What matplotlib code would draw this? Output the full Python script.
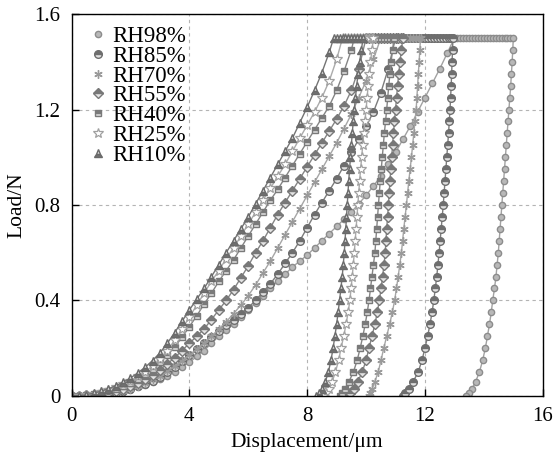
import matplotlib
matplotlib.use("Agg")
import matplotlib.pyplot as plt

plt.rcParams['font.family'] = ['Liberation Serif', 'DejaVu Serif']

PMAX = 1.5

# unloading curves are read at these load levels (N)
UNLOAD_P = [1.5, 1.45, 1.4, 1.35, 1.3, 1.25, 1.2, 1.15, 1.1, 1.05, 1.0, 0.95,
            0.9, 0.85, 0.8, 0.75, 0.7, 0.65, 0.6, 0.55, 0.5, 0.45, 0.4, 0.35,
            0.3, 0.25, 0.2, 0.15, 0.1, 0.06, 0.03, 0.01, 0.0]

LABELS = ["RH98%", "RH85%", "RH70%", "RH55%", "RH40%", "RH25%", "RH10%"]

# loading branch: displacement (um) and load (N)
load_x = {
    "RH98%": [0, 0.25, 0.5, 0.75, 1, 1.25, 1.5, 1.75, 2, 2.25, 2.5, 2.75, 3,
              3.25, 3.5, 3.75, 4, 4.25, 4.5, 4.75, 5, 5.25, 5.5, 5.75, 6, 6.25,
              6.5, 6.75, 7, 7.25, 7.5, 7.75, 8, 8.25, 8.5, 8.75, 9, 9.25, 9.5,
              9.75, 10, 10.25, 10.5, 10.75, 11, 11.25, 11.5, 11.75, 12, 12.25,
              12.5, 12.75, 13],
    "RH85%": [0, 0.25, 0.5, 0.75, 1, 1.25, 1.5, 1.75, 2, 2.25, 2.5, 2.75, 3,
              3.25, 3.5, 3.75, 4, 4.25, 4.5, 4.75, 5, 5.25, 5.5, 5.75, 6, 6.25,
              6.5, 6.75, 7, 7.25, 7.5, 7.75, 8, 8.25, 8.5, 8.75, 9, 9.25, 9.5,
              9.75, 10, 10.25, 10.5, 10.75, 11],
    "RH70%": [0, 0.25, 0.5, 0.75, 1, 1.25, 1.5, 1.75, 2, 2.25, 2.5, 2.75, 3,
              3.25, 3.5, 3.75, 4, 4.25, 4.5, 4.75, 5, 5.25, 5.5, 5.75, 6, 6.25,
              6.5, 6.75, 7, 7.25, 7.5, 7.75, 8, 8.25, 8.5, 8.75, 9, 9.25, 9.5,
              9.75, 10, 10.25, 10.5],
    "RH55%": [0, 0.25, 0.5, 0.75, 1, 1.25, 1.5, 1.75, 2, 2.25, 2.5, 2.75, 3,
              3.25, 3.5, 3.75, 4, 4.25, 4.5, 4.75, 5, 5.25, 5.5, 5.75, 6, 6.25,
              6.5, 6.75, 7, 7.25, 7.5, 7.75, 8, 8.25, 8.5, 8.75, 9, 9.25, 9.5,
              9.75, 10],
    "RH40%": [0, 0.25, 0.5, 0.75, 1, 1.25, 1.5, 1.75, 2, 2.25, 2.5, 2.75, 3,
              3.25, 3.5, 3.75, 4, 4.25, 4.5, 4.75, 5, 5.25, 5.5, 5.75, 6, 6.25,
              6.5, 6.75, 7, 7.25, 7.5, 7.75, 8, 8.25, 8.5, 8.75, 9, 9.25, 9.5,
              9.6],
    "RH25%": [0, 0.25, 0.5, 0.75, 1, 1.25, 1.5, 1.75, 2, 2.25, 2.5, 2.75, 3,
              3.25, 3.5, 3.75, 4, 4.25, 4.5, 4.75, 5, 5.25, 5.5, 5.75, 6, 6.25,
              6.5, 6.75, 7, 7.25, 7.5, 7.75, 8, 8.25, 8.5, 8.75, 9, 9.2],
    "RH10%": [0, 0.25, 0.5, 0.75, 1, 1.25, 1.5, 1.75, 2, 2.25, 2.5, 2.75, 3,
              3.25, 3.5, 3.75, 4, 4.25, 4.5, 4.75, 5, 5.25, 5.5, 5.75, 6, 6.25,
              6.5, 6.75, 7, 7.25, 7.5, 7.75, 8, 8.25, 8.5, 8.75, 8.9],
}
load_p = {
    "RH98%": [0, 0.0003, 0.001, 0.002, 0.004, 0.008, 0.012, 0.018, 0.025,
              0.035, 0.045, 0.057, 0.07, 0.085, 0.1, 0.12, 0.14, 0.165, 0.19,
              0.22, 0.25, 0.275, 0.3, 0.33, 0.36, 0.39, 0.42, 0.45, 0.48, 0.51,
              0.54, 0.565, 0.59, 0.62, 0.65, 0.68, 0.71, 0.74, 0.77, 0.805,
              0.84, 0.88, 0.92, 0.97, 1.02, 1.075, 1.13, 1.19, 1.25, 1.31,
              1.37, 1.435, 1.5],
    "RH85%": [0, 0.0003, 0.001, 0.003, 0.005, 0.009, 0.014, 0.021, 0.03,
              0.04, 0.05, 0.064, 0.08, 0.1, 0.12, 0.145, 0.17, 0.195, 0.22,
              0.245, 0.27, 0.295, 0.32, 0.345, 0.37, 0.4, 0.435, 0.47, 0.51,
              0.555, 0.6, 0.65, 0.705, 0.76, 0.81, 0.86, 0.91, 0.965, 1.02,
              1.075, 1.13, 1.19, 1.27, 1.37, 1.5],
    "RH70%": [0, 0.0003, 0.001, 0.003, 0.005, 0.009, 0.015, 0.022, 0.03,
              0.042, 0.055, 0.07, 0.085, 0.104, 0.125, 0.147, 0.17, 0.195,
              0.22, 0.25, 0.28, 0.31, 0.345, 0.38, 0.42, 0.465, 0.515, 0.565,
              0.62, 0.675, 0.73, 0.785, 0.84, 0.895, 0.95, 1.005, 1.06, 1.12,
              1.18, 1.25, 1.32, 1.41, 1.5],
    "RH55%": [0, 0.0005, 0.002, 0.005, 0.008, 0.013, 0.02, 0.029, 0.04,
              0.054, 0.07, 0.089, 0.11, 0.134, 0.16, 0.19, 0.22, 0.25, 0.28,
              0.32, 0.36, 0.4, 0.445, 0.495, 0.545, 0.6, 0.65, 0.705, 0.76,
              0.81, 0.86, 0.91, 0.96, 1.01, 1.06, 1.11, 1.16, 1.215, 1.28,
              1.37, 1.5],
    "RH40%": [0, 0.001, 0.003, 0.007, 0.012, 0.02, 0.03, 0.042, 0.055, 0.071,
              0.09, 0.112, 0.14, 0.17, 0.205, 0.245, 0.29, 0.335, 0.385, 0.43,
              0.48, 0.525, 0.57, 0.62, 0.67, 0.72, 0.77, 0.82, 0.865, 0.915,
              0.965, 1.015, 1.065, 1.115, 1.165, 1.215, 1.28, 1.36, 1.45, 1.5],
    "RH25%": [0, 0.001, 0.004, 0.009, 0.016, 0.025, 0.036, 0.049, 0.064,
              0.082, 0.102, 0.125, 0.155, 0.19, 0.233, 0.28, 0.33, 0.38, 0.43,
              0.48, 0.525, 0.575, 0.62, 0.67, 0.72, 0.77, 0.82, 0.87, 0.92,
              0.97, 1.025, 1.08, 1.135, 1.19, 1.25, 1.32, 1.41, 1.5],
    "RH10%": [0, 0.001, 0.005, 0.011, 0.02, 0.03, 0.042, 0.057, 0.075, 0.096,
              0.12, 0.148, 0.18, 0.22, 0.265, 0.312, 0.36, 0.405, 0.45, 0.5,
              0.55, 0.6, 0.65, 0.7, 0.75, 0.805, 0.86, 0.915, 0.97, 1.025,
              1.08, 1.145, 1.21, 1.28, 1.355, 1.44, 1.5],
}
# holding branch at PMAX: displacement (um) between loading and unloading
hold_x = {
    "RH98%": [13.1, 13.2, 13.3, 13.4, 13.5, 13.6, 13.7, 13.8, 13.9, 14.0,
              14.1, 14.2, 14.3, 14.4, 14.5, 14.6, 14.7, 14.8, 14.9],
    "RH85%": [11.1, 11.2, 11.3, 11.4, 11.5, 11.6, 11.7, 11.8, 11.9, 12.0,
              12.1, 12.2, 12.3, 12.4, 12.5, 12.6, 12.7, 12.8, 12.9],
    "RH70%": [10.6, 10.7, 10.8, 10.9, 11.0, 11.1, 11.2, 11.3, 11.4, 11.5,
              11.6, 11.7, 11.8],
    "RH55%": [10.1, 10.2, 10.3, 10.4, 10.5, 10.6, 10.7, 10.8, 10.9, 11.0,
              11.1, 11.2],
    "RH40%": [9.7, 9.8, 9.9, 10.0, 10.1, 10.2, 10.3, 10.4, 10.5, 10.6, 10.7,
              10.8, 10.9],
    "RH25%": [9.3, 9.4, 9.5, 9.6, 9.7, 9.8, 9.9, 10.0, 10.1, 10.2],
    "RH10%": [9.0, 9.1, 9.2, 9.3, 9.4, 9.5, 9.6, 9.7, 9.8],
}
# unloading branch: displacement (um) at UNLOAD_P
unload_x = {
    "RH98%": [15.0, 14.98, 14.96, 14.935, 14.91, 14.88, 14.85, 14.82, 14.79,
              14.76, 14.73, 14.7, 14.67, 14.64, 14.61, 14.58, 14.55, 14.52,
              14.49, 14.45, 14.41, 14.36, 14.3, 14.25, 14.19, 14.12, 14.05,
              13.96, 13.85, 13.72, 13.6, 13.48, 13.4],
    "RH85%": [12.95, 12.935, 12.92, 12.905, 12.89, 12.87, 12.85, 12.825,
              12.8, 12.77, 12.74, 12.71, 12.68, 12.65, 12.62, 12.585, 12.55,
              12.515, 12.48, 12.44, 12.4, 12.35, 12.3, 12.24, 12.17, 12.09,
              12.0, 11.9, 11.77, 11.6, 11.45, 11.33, 11.25],
    "RH70%": [11.85, 11.825, 11.8, 11.775, 11.75, 11.725, 11.7, 11.66, 11.62,
              11.58, 11.54, 11.495, 11.45, 11.41, 11.37, 11.325, 11.28, 11.24,
              11.2, 11.145, 11.09, 11.03, 10.97, 10.89, 10.8, 10.7, 10.6,
              10.51, 10.41, 10.3, 10.21, 10.14, 10.1],
    "RH55%": [11.25, 11.2, 11.15, 11.11, 11.07, 11.035, 11.0, 10.965, 10.93,
              10.9, 10.87, 10.84, 10.81, 10.785, 10.76, 10.73, 10.7, 10.675,
              10.65, 10.61, 10.56, 10.51, 10.45, 10.38, 10.3, 10.2, 10.1, 10.0,
              9.87, 9.72, 9.58, 9.47, 9.4],
    "RH40%": [10.95, 10.9, 10.85, 10.81, 10.77, 10.735, 10.7, 10.66, 10.62,
              10.585, 10.55, 10.515, 10.48, 10.45, 10.42, 10.39, 10.36, 10.33,
              10.3, 10.25, 10.2, 10.15, 10.1, 10.04, 9.97, 9.89, 9.8, 9.7,
              9.57, 9.42, 9.28, 9.17, 9.1],
    "RH25%": [10.25, 10.2, 10.15, 10.11, 10.07, 10.035, 10.0, 9.96, 9.92,
              9.885, 9.85, 9.815, 9.78, 9.75, 9.72, 9.69, 9.66, 9.63, 9.6,
              9.565, 9.53, 9.49, 9.45, 9.39, 9.32, 9.24, 9.15, 9.07, 8.96,
              8.85, 8.74, 8.63, 8.55],
    "RH10%": [9.9, 9.84, 9.78, 9.73, 9.68, 9.64, 9.6, 9.565, 9.53, 9.5, 9.47,
              9.44, 9.41, 9.385, 9.36, 9.335, 9.31, 9.285, 9.26, 9.225, 9.19,
              9.145, 9.1, 9.05, 9.0, 8.94, 8.88, 8.81, 8.72, 8.62, 8.52, 8.4,
              8.3],
}

X_TICKS = [0, 4, 8, 12, 16]
Y_TICKS = [0, 0.4, 0.8, 1.2, 1.6]
Y_TICK_LABELS = ["0", "0.4", "0.8", "1.2", "1.6"]

# marker styles per humidity
styles = {
    "RH98%": dict(marker='o', ms=4.5, color='#a2a2a2', mfc='#b8b8b8', mec='#8c8c8c'),
    "RH85%": dict(marker='o', ms=5.5, color='#7c7c7c', mfc='#6e6e6e', mec='#6e6e6e',
                  fillstyle='top', markerfacecoloralt='#e0e0e0'),
    "RH70%": dict(marker=(6, 2, 0), ms=6, color='#a6a6a6', mec='#9a9a9a', mew=1.0),
    "RH55%": dict(marker='D', ms=5, color='#858585', mfc='#787878', mec='#787878',
                  fillstyle='top', markerfacecoloralt='#e4e4e4'),
    "RH40%": dict(marker='s', ms=5, color='#858585', mfc='#7a7a7a', mec='#7a7a7a',
                  fillstyle='top', markerfacecoloralt='#dcdcdc'),
    "RH25%": dict(marker='*', ms=7, color='#ababab', mfc='white', mec='#a0a0a0', mew=0.9),
    "RH10%": dict(marker='^', ms=5.5, color='#747474', mfc='#727272', mec='#6a6a6a',
                  fillstyle='bottom', markerfacecoloralt='#d8d8d8'),
}

fig = plt.figure(figsize=(5.59, 4.55), dpi=100)
ax = fig.add_axes([0.128, 0.13, 0.843, 0.839])

for name in LABELS:
    xs = load_x[name] + hold_x[name] + unload_x[name]
    ps = load_p[name] + [PMAX] * len(hold_x[name]) + UNLOAD_P
    ax.plot(xs, ps, lw=1.0, label=name, **styles[name])

ax.set_xlim(0, 16)
ax.set_ylim(0, 1.6)
ax.set_xticks(X_TICKS)
ax.set_yticks(Y_TICKS)
ax.set_xticklabels([str(t) for t in X_TICKS])
ax.set_yticklabels(Y_TICK_LABELS)
ax.tick_params(direction='in', length=5, width=1, labelsize=15, pad=8)
ax.grid(True, color='#b4b4b4', linestyle=(0, (3, 3)), linewidth=0.8)
for s in ax.spines.values():
    s.set_linewidth(1.0)

ax.set_xlabel("Displacement/\u03bcm", fontsize=15.5, labelpad=5)
ax.set_ylabel("Load/N", fontsize=15.5, labelpad=6)

leg = ax.legend(loc='upper left', frameon=False, fontsize=16.5, handlelength=0.9,
                handletextpad=0.2, labelspacing=-0.05, borderaxespad=0.0,
                borderpad=0.4, bbox_to_anchor=(0.0145, 0.9935))
for h in leg.get_lines():
    h.set_linestyle('none')

fig.savefig("out.png", dpi=100)
